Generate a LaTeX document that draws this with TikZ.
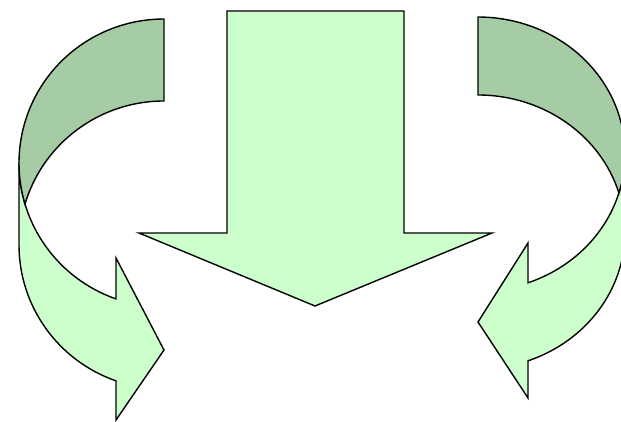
\documentclass[tikz,border=0pt]{standalone}
\definecolor{lightgreen}{HTML}{CCFFCC}
\definecolor{darkband}{HTML}{A5CCA5}
\tikzset{
  shapeline/.style={draw=black, line width=1.4pt, line join=miter},
  lightpart/.style={shapeline, fill=lightgreen},
  darkpart/.style={shapeline, fill=darkband}
}
\begin{document}
\begin{tikzpicture}[x=1pt,y=1pt]
\useasboundingbox (0,0) rectangle (621,421);
\clip (0,0) rectangle (621,421);
% central down arrow
\draw[lightpart] (227,410) -- (404,410) -- (404,188) -- (492,188) -- (315,115) -- (139,188) -- (227,188) -- cycle;
% left curved arrow: light band
\draw[lightpart] (19,258) -- (19,176)
  arc[start angle=180, end angle=250.67, x radius=145, y radius=144]
  -- (116,1) -- (164,71) -- (116,163) -- (116,122.1)
  arc[start angle=250.67, end angle=180, x radius=145, y radius=144] -- cycle;
% left curved arrow: dark band
\draw[darkpart] (164,402)
  arc[start angle=90, end angle=196.54, x radius=145, y radius=144]
  arc[start angle=163.46, end angle=90, x radius=145, y radius=144] -- cycle;
% right curved arrow: light band
\draw[lightpart] (625,267) -- (625,189)
  arc[start angle=0, end angle=-70.1, x radius=147, y radius=137]
  -- (528,23) -- (478,99) -- (528,178) -- (528,138.2)
  arc[start angle=-70.1, end angle=0, x radius=147, y radius=137] -- cycle;
% right curved arrow: dark band
\draw[darkpart] (478,404)
  arc[start angle=90, end angle=-16.54, x radius=147, y radius=137]
  arc[start angle=16.54, end angle=90, x radius=147, y radius=137] -- cycle;
\end{tikzpicture}
\end{document}
